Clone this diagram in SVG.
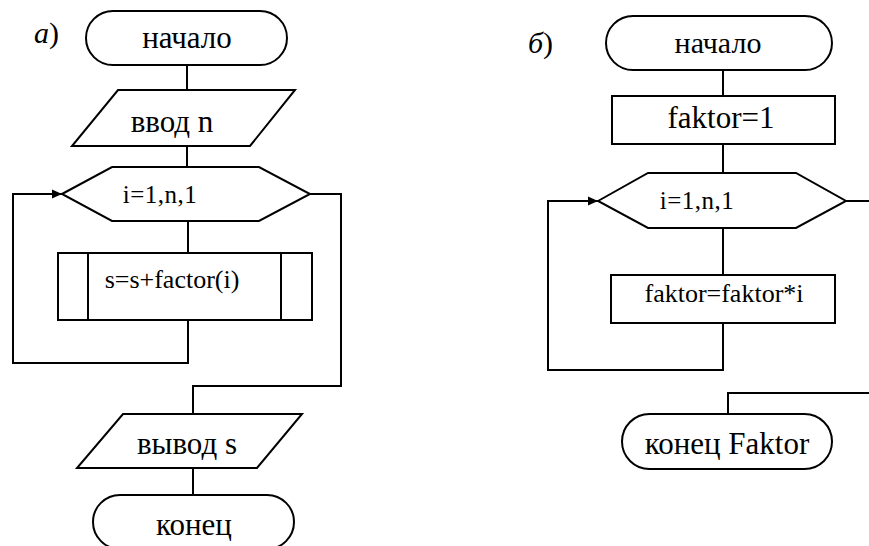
<svg xmlns="http://www.w3.org/2000/svg" width="869" height="546" viewBox="0 0 869 546" font-family="'Liberation Serif', 'Times New Roman', serif">
<style>
.s{fill:#fff;stroke:#000;stroke-width:2}
.c{fill:none;stroke:#000;stroke-width:2}
text{font-family:'Liberation Serif', serif;fill:#000}
.m{text-anchor:middle}
.it{font-style:italic}
</style>
<defs>
<marker id="ah" markerUnits="userSpaceOnUse" markerWidth="10" markerHeight="10" refX="10" refY="5" orient="auto">
<path d="M0,0.5 L10,5 L0,9.5 z" fill="#000"/>
</marker>
</defs>
<rect width="869" height="546" fill="#fff"/>
<g id="connectors">
<path class="c" d="M187,65 V90"/>
<path class="c" d="M187,146 V167"/>
<path class="c" d="M188,221 V253"/>
<path class="c" d="M188,320 V363 H13 V194 H62" marker-end="url(#ah)"/>
<path class="c" d="M310,194 H341 V386 H193 V414"/>
<path class="c" d="M193,468 V495"/>
<path class="c" d="M723,70 V96"/>
<path class="c" d="M723,144 V173"/>
<path class="c" d="M723,228 V275"/>
<path class="c" d="M723,323 V370 H548 V201 H598" marker-end="url(#ah)"/>
<path class="c" d="M846,201 H872"/>
<path class="c" d="M872,393 H728 V414"/>
</g>
<text x="34" y="43" font-size="30"><tspan class="it">a</tspan>)</text>
<text x="528" y="53" font-size="30"><tspan class="it">б</tspan>)</text>
<g id="a_start">
<rect class="s" x="86" y="11" width="201" height="54" rx="27"/>
<text class="m" x="187" y="48" font-size="31">начало</text>
</g>
<g id="a_input">
<path class="s" d="M118,90 H295 L250,146 H72 Z"/>
<text class="m" x="172" y="132" font-size="31">ввод n</text>
</g>
<g id="a_loop">
<path class="s" d="M62,194 L112,167 H259 L310,194 L259,221 H112 Z"/>
<text class="m" x="160" y="203" font-size="25" letter-spacing="0.5">i=1,n,1</text>
</g>
<g id="a_call">
<rect class="s" x="58" y="253" width="254" height="67"/>
<path class="c" d="M88,253 V320 M281,253 V320"/>
<text class="m" x="172" y="288" font-size="26">s=s+factor(i)</text>
</g>
<g id="a_output">
<path class="s" d="M123,414 H302 L257,468 H77 Z"/>
<text class="m" x="187" y="454" font-size="31">вывод s</text>
</g>
<g id="a_end">
<rect class="s" x="93" y="495" width="201" height="54" rx="27"/>
<text class="m" x="194" y="535" font-size="31">конец</text>
</g>
<g id="b_start">
<rect class="s" x="606" y="16" width="226" height="54" rx="27"/>
<text class="m" x="718" y="53" font-size="30">начало</text>
</g>
<g id="b_init">
<rect class="s" x="612" y="96" width="223" height="48"/>
<text class="m" x="721" y="128" font-size="31">faktor=1</text>
</g>
<g id="b_loop">
<path class="s" d="M598,201 L648,173 H796 L846,201 L796,228 H648 Z"/>
<text class="m" x="697" y="209" font-size="25" letter-spacing="0.5">i=1,n,1</text>
</g>
<g id="b_body">
<rect class="s" x="611" y="275" width="224" height="48"/>
<text class="m" x="724" y="302" font-size="26">faktor=faktor*i</text>
</g>
<g id="b_end">
<rect class="s" x="622" y="414" width="210" height="55" rx="27.5"/>
<text class="m" x="727" y="454" font-size="31">конец Faktor</text>
</g>
</svg>
